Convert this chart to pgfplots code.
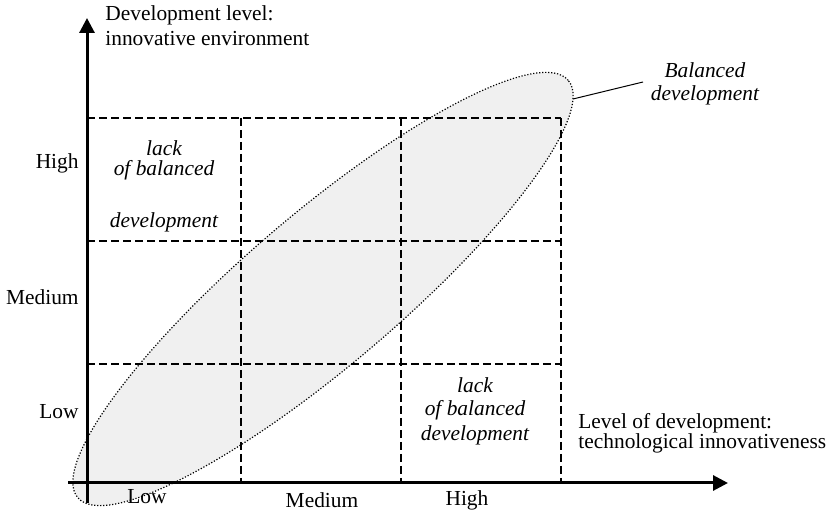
\documentclass[border=0pt]{standalone}
\usepackage{pgfplots}
\pgfplotsset{compat=1.18}
\usetikzlibrary{arrows.meta}
\usepackage{fontspec}
\setmainfont{Liberation Serif}
\begin{document}
\begin{tikzpicture}[lbl/.style={font=\fontsize{10.7}{12.5}\selectfont, inner sep=0pt}]
\path[use as bounding box] (0,0) rectangle (413.5pt,257.5pt);
\begin{axis}[
  x=0.5pt, y=0.5pt,
  xmin=0, xmax=827, ymin=0, ymax=515,
  anchor=south west, at={(0,0)},
  hide axis, clip=false,
]
% ellipse (balanced development region)
\fill[black!6, rotate around={40.4:(axis cs:323,226)}] (axis cs:323,226) ellipse [x radius=161pt, y radius=38pt];
\draw[line width=0.6pt, dash pattern=on 0.6pt off 0.9pt, rotate around={40.4:(axis cs:323,226)}] (axis cs:323,226) ellipse [x radius=161pt, y radius=38pt];
% dashed grid
\addplot[black, line width=0.75pt, dash pattern=on 4pt off 2pt] coordinates {(87,397) (561,397)};
\addplot[black, line width=0.75pt, dash pattern=on 4pt off 2pt] coordinates {(87,274) (561,274)};
\addplot[black, line width=0.75pt, dash pattern=on 4pt off 2pt] coordinates {(87,151) (561,151)};
\addplot[black, line width=0.75pt, dash pattern=on 4pt off 2pt] coordinates {(241,397) (241,32)};
\addplot[black, line width=0.75pt, dash pattern=on 4pt off 2pt] coordinates {(401,397) (401,32)};
\addplot[black, line width=0.75pt, dash pattern=on 4pt off 2pt] coordinates {(561,397) (561,32)};
% axes
\addplot[black, line width=1.5pt, -{Triangle[length=7.5pt,width=7.5pt]}] coordinates {(87,12) (87,497)};
\addplot[black, line width=1.5pt, -{Triangle[length=7.5pt,width=7.5pt]}] coordinates {(68,32) (728,32)};
% leader line
\addplot[black, line width=0.5pt] coordinates {(573,416) (643,433)};
% axis titles
\node[lbl, anchor=west] at (axis cs:105,500) {Development level:};
\node[lbl, anchor=west] at (axis cs:105,476) {innovative environment};
\node[lbl, anchor=west] at (axis cs:578,92) {Level of development:};
\node[lbl, anchor=west] at (axis cs:578,72) {technological innovativeness};
% level labels
\node[lbl, anchor=east] at (axis cs:79,352) {High};
\node[lbl, anchor=east] at (axis cs:79,218) {Medium};
\node[lbl, anchor=east] at (axis cs:79,103) {Low};
\node[lbl] at (axis cs:147,18) {Low};
\node[lbl] at (axis cs:322,15) {Medium};
\node[lbl] at (axis cs:467,15) {High};
% cell labels
\node[lbl] at (axis cs:164,367) {\itshape lack};
\node[lbl] at (axis cs:164,345) {\itshape of balanced};
\node[lbl] at (axis cs:164,293) {\itshape development};
\node[lbl] at (axis cs:475,130) {\itshape lack};
\node[lbl] at (axis cs:475,105) {\itshape of balanced};
\node[lbl] at (axis cs:475,80) {\itshape development};
\node[lbl] at (axis cs:705,445) {\itshape Balanced};
\node[lbl] at (axis cs:705,420) {\itshape development};
\end{axis}
\end{tikzpicture}
\end{document}
